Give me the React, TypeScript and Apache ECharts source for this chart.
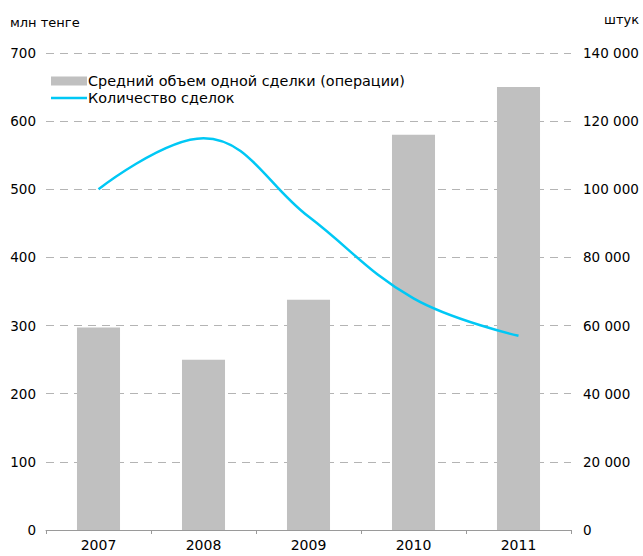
import React, { useEffect, useRef } from "react";
import * as echarts from "echarts";

const categories = ["2007", "2008", "2009", "2010", "2011"];
const avgDealVolume = [297, 250, 338, 580, 650];
const dealCount = [100000, 115000, 92000, 68000, 57000];
const leftTicks = [0, 100, 200, 300, 400, 500, 600, 700];
const rightTicks = [0, 20000, 40000, 60000, 80000, 100000, 120000, 140000];

const FONT = "DejaVu Sans, Verdana, sans-serif";
const LINE_ICON = "path://M0 0H36V0.01H0Z M0 3.3H36V5.7H0Z M0 8.99H36V9H0Z";

export default function App() {
  const ref = useRef<HTMLDivElement>(null);
  useEffect(() => {
    if (!ref.current) return;
    const chart = echarts.init(ref.current, undefined, { renderer: "svg" });
    const fmt = (v: number) =>
      String(v).replace(/\B(?=(\d{3})+(?!\d))/g, " ");
    chart.setOption({
      animation: false,
      textStyle: { fontFamily: FONT },
      grid: { left: 46, right: 72, top: 53, bottom: 26, containLabel: false },
      legend: {
        orient: "vertical",
        left: 46,
        top: 69,
        itemWidth: 36,
        itemHeight: 9,
        itemGap: 3,
        textStyle: { fontFamily: FONT, fontSize: 14.4, color: "#000", padding: [0, 0, 0, -4] },
        data: [
          { name: "Средний объем одной сделки (операции)", icon: "rect" },
          { name: "Количество сделок", icon: LINE_ICON },
        ],
      },
      graphic: [
        { type: "text", left: 10, top: 16, style: { text: "млн тенге", font: `13px ${FONT}`, fill: "#000" } },
        { type: "text", left: 604, top: 13, style: { text: "штук", font: `13px ${FONT}`, fill: "#000" } },
      ],
      xAxis: {
        type: "category",
        data: categories,
        axisLine: { lineStyle: { color: "#9a9a9a" } },
        axisTick: { show: true, length: 4, lineStyle: { color: "#9a9a9a" } },
        axisLabel: { color: "#000", fontSize: 14, fontFamily: FONT, margin: 8 },
      },
      yAxis: [
        {
          type: "value",
          min: leftTicks[0],
          max: leftTicks[leftTicks.length - 1],
          interval: 100,
          axisLine: { show: false },
          axisTick: { show: false },
          axisLabel: { color: "#000", fontSize: 13.5, fontFamily: FONT, margin: 10 },
          splitLine: { lineStyle: { color: "#b4b4b4", type: [8, 6], width: 1 } },
        },
        {
          type: "value",
          min: rightTicks[0],
          max: rightTicks[rightTicks.length - 1],
          interval: 20000,
          axisLine: { show: false },
          axisTick: { show: false },
          axisLabel: { color: "#000", fontSize: 13.5, fontFamily: FONT, margin: 12, formatter: fmt },
          splitLine: { show: false },
        },
      ],
      series: [
        {
          name: "Средний объем одной сделки (операции)",
          type: "bar",
          data: avgDealVolume,
          barWidth: "41%",
          itemStyle: { color: "#c0c0c0" },
          yAxisIndex: 0,
        },
        {
          name: "Количество сделок",
          type: "line",
          data: dealCount,
          yAxisIndex: 1,
          smooth: 0.4,
          symbol: "none",
          lineStyle: { color: "#00c8f5", width: 2.5 },
          itemStyle: { color: "#00c8f5" },
        },
      ],
    });
    return () => chart.dispose();
  }, []);
  return (
    <div
      ref={ref}
      style={{ position: "absolute", left: 0, top: 0, width: 643, height: 556 }}
    />
  );
}
